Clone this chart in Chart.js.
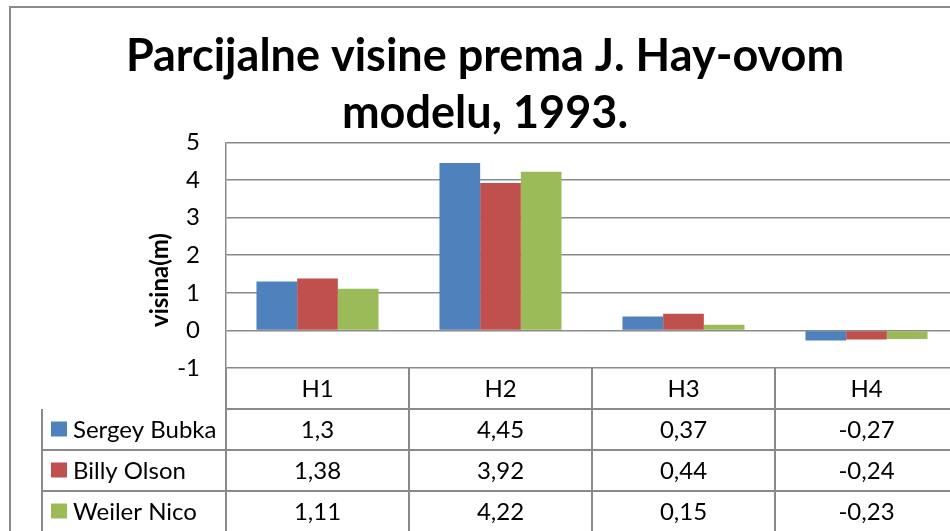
<!DOCTYPE html>
<html>
<head>
<meta charset="utf-8">
<script src="https://cdn.jsdelivr.net/npm/chart.js@4/dist/chart.umd.min.js"></script>
<style>
    html, body { margin: 0; padding: 0; background: #fff; overflow: hidden; }
    #wrap { width: 975px; height: 531px; }
</style>
</head>
<body>
<div id="wrap"><canvas id="hayChart"></canvas></div>
<script>
var categories = ["H1", "H2", "H3", "H4"];
var bubka = [1.3, 4.45, 0.37, -0.27];
var olson = [1.38, 3.92, 0.44, -0.24];
var nico = [1.11, 4.22, 0.15, -0.23];
var seriesNames = ["Sergey Bubka", "Billy Olson", "Weiler Nico"];
var colors = ["#4F81BD", "#C0504D", "#9BBB59"];
var gridColor = "#8a8a8a";
var font = "Lato, 'Open Sans', sans-serif";

function fmt(v) {
    return String(v).replace(".", ",");
}

// frame, axis label and the data table under the plot
var extras = {
    id: 'extras',
    beforeDraw: function (chart) {
        var c = chart.ctx;
        c.save();
        c.strokeStyle = gridColor;
        c.lineWidth = 2;
        c.strokeRect(10, 7, chart.width + 20, chart.height + 20);
        c.restore();
    },
    afterDraw: function (chart) {
        var c = chart.ctx;
        var area = chart.chartArea;
        var x = chart.scales.x;
        var rowH = 41;
        var top = area.bottom;
        var legLeft = 42;
        var step = (area.right - area.left) / categories.length;
        var data = chart.data.datasets;

        c.save();
        c.strokeStyle = gridColor;
        c.lineWidth = 2;
        c.beginPath();
        // header row
        c.moveTo(area.left, top + rowH);
        c.lineTo(area.right, top + rowH);
        for (var r = 1; r <= data.length; r++) {
            c.moveTo(legLeft, top + rowH * (r + 1));
            c.lineTo(area.right, top + rowH * (r + 1));
        }
        for (var i = 0; i <= categories.length; i++) {
            var lx = area.left + step * i;
            c.moveTo(lx, top);
            c.lineTo(lx, top + rowH * (data.length + 1));
        }
        c.moveTo(legLeft, top + rowH);
        c.lineTo(legLeft, top + rowH * (data.length + 1));
        c.stroke();

        c.fillStyle = "#000";
        c.font = "24px " + font;
        c.textAlign = "center";
        c.textBaseline = "middle";
        categories.forEach(function (cat, i) {
            c.fillText(cat, x.getPixelForValue(i), top + rowH / 2 + 1);
        });
        data.forEach(function (ds, r) {
            var cy = top + rowH * (r + 1) + rowH / 2 + 1;
            ds.data.forEach(function (v, i) {
                c.textAlign = "center";
                c.fillText(fmt(v), x.getPixelForValue(i), cy);
            });
            c.fillStyle = ds.backgroundColor;
            c.fillRect(51, cy - 9, 16, 15);
            c.fillStyle = "#000";
            c.textAlign = "left";
            c.fillText(ds.label, 73, cy);
        });

        // y axis title
        c.translate(160, 280);
        c.rotate(-Math.PI / 2);
        c.font = "bold 24px " + font;
        c.textAlign = "center";
        c.fillText("visina(m)", 0, 0);
        c.restore();
    }
};

var ctx = document.getElementById("hayChart");
var myChart = new Chart(ctx, {
    type: 'bar',
    data: {
        labels: categories,
        datasets: [
            { label: seriesNames[0], data: bubka, backgroundColor: colors[0] },
            { label: seriesNames[1], data: olson, backgroundColor: colors[1] },
            { label: seriesNames[2], data: nico, backgroundColor: colors[2] }
        ]
    },
    options: {
        responsive: true,
        maintainAspectRatio: false,
        animation: false,
        layout: { padding: { top: 0, left: 12, right: 17, bottom: 163 } },
        datasets: {
            bar: { categoryPercentage: 0.667, barPercentage: 1 }
        },
        plugins: {
            legend: { display: false },
            tooltip: { enabled: false },
            title: {
                display: true,
                text: ["Parcijalne visine prema J. Hay-ovom", "modelu, 1993."],
                color: "#000",
                font: { family: font, size: 45, weight: 'bold', lineHeight: 1.27 },
                padding: { top: 28, bottom: 0 }
            }
        },
        scales: {
            x: { display: false },
            y: {
                min: -1,
                max: 5,
                afterFit: function (s) { s.width = 214; },
                ticks: {
                    stepSize: 1,
                    padding: 26,
                    color: "#000",
                    font: { family: font, size: 24 }
                },
                grid: { color: gridColor, lineWidth: 1.5, drawTicks: false },
                border: { color: gridColor, width: 1.5 }
            }
        }
    },
    plugins: [extras]
});
</script>
</body>
</html>
